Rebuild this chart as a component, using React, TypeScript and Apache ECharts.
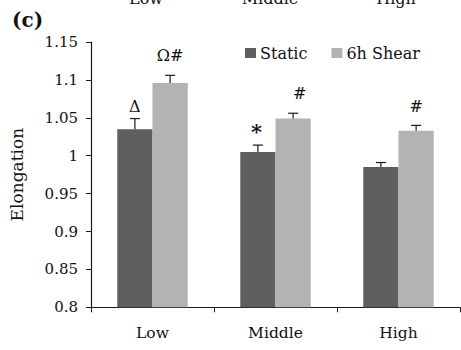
import React, { useEffect, useRef } from "react";
import * as echarts from "echarts";

const categories = ["Low", "Middle", "High"];
const staticValues = [1.035, 1.005, 0.985];
const shearValues = [1.096, 1.049, 1.033];
const staticErrors = [0.014, 0.009, 0.006];
const shearErrors = [0.010, 0.007, 0.007];
const staticMarks = ["Δ", "*", ""];
const shearMarks = ["Ω#", "#", "#"];
const topPanelLabels = ["Low", "Middle", "High"];

// annotation placement styling (pixels relative to the error-bar cap)
const staticMarkStyle = [
  { dx: 0, dy: 12, size: 16, weight: "normal" },
  { dx: -1.5, dy: 14, size: 21, weight: "bold" },
  { dx: 0, dy: 12, size: 16, weight: "normal" },
];
const shearMarkStyle = [
  { dx: 0, dy: 20, size: 16, weight: "normal" },
  { dx: 6.5, dy: 20, size: 16, weight: "normal" },
  { dx: 0, dy: 19, size: 16, weight: "normal" },
];

const FONT = "DejaVu Serif";
const CAT_GAP = 0.427;

function errorSeries(
  name: string,
  values: number[],
  errors: number[],
  marks: string[],
  markStyle: { dx: number; dy: number; size: number; weight: string }[],
  side: number
) {
  return {
    type: "custom",
    name: name + "-err",
    z: 10,
    silent: true,
    data: values.map((v, i) => [i, v, errors[i]]),
    renderItem: (params: any, api: any) => {
      const idx = api.value(0);
      const v = api.value(1);
      const e = api.value(2);
      const base = api.coord([idx, v]);
      const top = api.coord([idx, v + e]);
      const band = api.size([1, 0])[0];
      const barW = (band * (1 - CAT_GAP)) / 2;
      const x = base[0] + (side * barW) / 2;
      const st = markStyle[params.dataIndex];
      const children: any[] = [
        {
          type: "line",
          shape: { x1: x, y1: base[1], x2: x, y2: top[1] },
          style: { stroke: "#1a1a1a", lineWidth: 1.2 },
        },
        {
          type: "line",
          shape: { x1: x - 5, y1: top[1], x2: x + 5, y2: top[1] },
          style: { stroke: "#1a1a1a", lineWidth: 1.2 },
        },
      ];
      const m = marks[params.dataIndex];
      if (m) {
        children.push({
          type: "text",
          x: x + st.dx,
          y: top[1] - st.dy,
          style: {
            text: m,
            fontFamily: FONT,
            fontSize: st.size,
            fontWeight: st.weight,
            fill: "#111",
            align: "center",
            verticalAlign: "middle",
          },
        });
      }
      return { type: "group", children };
    },
  };
}

export default function App() {
  const ref = useRef<HTMLDivElement>(null);
  useEffect(() => {
    if (!ref.current) return;
    const chart = echarts.init(ref.current, null, { renderer: "svg" });
    const centers = [146, 270, 396];
    chart.setOption({
      animation: false,
      backgroundColor: "#ffffff",
      textStyle: { fontFamily: FONT },
      grid: { left: 90, right: 1, top: 42, bottom: 42.7, containLabel: false },
      legend: {
        left: 245,
        top: 45,
        padding: 0,
        itemWidth: 11,
        itemHeight: 10,
        itemGap: 24,
        icon: "rect",
        data: ["Static", "6h Shear"],
        textStyle: { fontFamily: FONT, fontSize: 16, color: "#111", padding: [0, 0, 0, -1] },
      },
      xAxis: {
        type: "category",
        data: categories,
        axisLine: { lineStyle: { color: "#1a1a1a", width: 1.2 } },
        axisTick: { show: true, length: 5, lineStyle: { color: "#1a1a1a" } },
        axisLabel: { fontFamily: FONT, fontSize: 15.5, color: "#111", margin: 18 },
      },
      yAxis: {
        type: "value",
        min: 0.8,
        max: 1.15,
        interval: 0.05,
        name: "Elongation",
        nameLocation: "middle",
        nameGap: 66,
        nameTextStyle: { fontFamily: FONT, fontSize: 17, color: "#111" },
        axisLine: { show: true, lineStyle: { color: "#1a1a1a", width: 1.2 } },
        axisTick: { show: true, length: 5, lineStyle: { color: "#1a1a1a" } },
        splitLine: { show: false },
        axisLabel: {
          fontFamily: FONT,
          fontSize: 15,
          color: "#111",
          margin: 13,
          formatter: (v: number) => String(parseFloat(v.toFixed(2))),
        },
      },
      series: [
        {
          type: "bar",
          name: "Static",
          data: staticValues,
          barGap: "0%",
          barCategoryGap: CAT_GAP * 100 + "%",
          itemStyle: { color: "#5f5f5f" },
        },
        {
          type: "bar",
          name: "6h Shear",
          data: shearValues,
          barGap: "0%",
          barCategoryGap: CAT_GAP * 100 + "%",
          itemStyle: { color: "#b3b3b3" },
        },
        errorSeries("Static", staticValues, staticErrors, staticMarks, staticMarkStyle, -1),
        errorSeries("6h Shear", shearValues, shearErrors, shearMarks, shearMarkStyle, 1),
      ],
      graphic: [
        {
          type: "text",
          left: 12,
          top: 10,
          style: { text: "(c)", fontFamily: FONT, fontSize: 20, fontWeight: "bold", fill: "#111" },
        },
        ...topPanelLabels.map((t, i) => ({
          type: "text",
          x: centers[i],
          y: 6,
          style: {
            text: t,
            fontFamily: FONT,
            fontSize: 16,
            fill: "#111",
            align: "center",
            verticalAlign: "bottom",
          },
        })),
      ],
    });
    return () => chart.dispose();
  }, []);
  return (
    <div
      ref={ref}
      style={{ position: "absolute", left: 0, top: 0, width: 461, height: 350 }}
    />
  );
}
